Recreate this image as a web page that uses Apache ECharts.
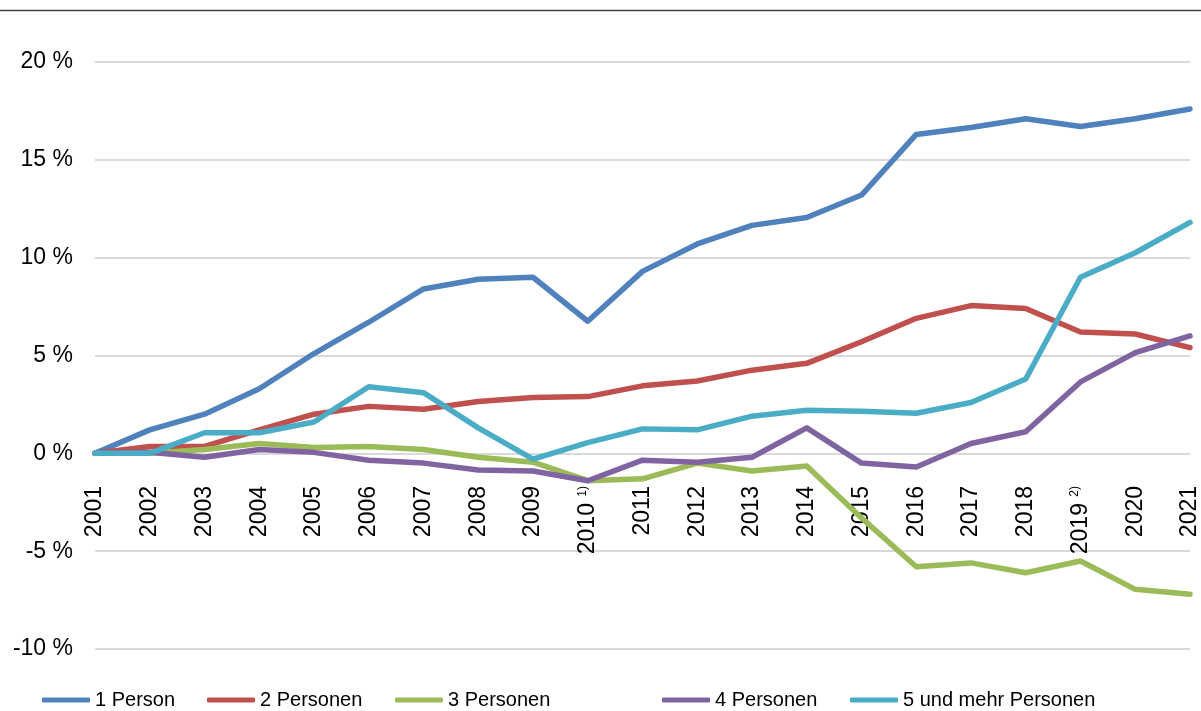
<!DOCTYPE html>
<html>
<head>
<meta charset="utf-8">
<script src="https://cdn.jsdelivr.net/npm/echarts@6/dist/echarts.min.js"></script>
<style>
  html, body { margin: 0; padding: 0; background: #fff; }
  #chart { width: 1201px; height: 711px; }
</style>
</head>
<body>
<div id="chart"></div>
<script>
// Jahre (x-Achse)
const years = ['2001', '2002', '2003', '2004', '2005', '2006', '2007', '2008', '2009', '2010 {s|1)}',
  '2011', '2012', '2013', '2014', '2015', '2016', '2017', '2018', '2019 {s|2)}', '2020', '2021'];

// Veränderung gegenüber 2001 in %
const person1 = [0, 1.2, 2.0, 3.3, 5.1, 6.7, 8.4, 8.9, 9.0, 6.75, 9.3, 10.7, 11.65, 12.05, 13.2, 16.3, 16.65, 17.1, 16.7, 17.1, 17.6];
const person2 = [0, 0.35, 0.35, 1.2, 2.0, 2.4, 2.25, 2.65, 2.85, 2.9, 3.45, 3.7, 4.25, 4.6, 5.7, 6.9, 7.55, 7.4, 6.2, 6.1, 5.4];
const person3 = [0, 0, 0.2, 0.5, 0.3, 0.35, 0.2, -0.2, -0.45, -1.4, -1.3, -0.5, -0.9, -0.65, -3.3, -5.8, -5.6, -6.1, -5.5, -6.95, -7.2];
const person4 = [0, 0.05, -0.2, 0.2, 0.05, -0.35, -0.5, -0.85, -0.9, -1.4, -0.35, -0.45, -0.2, 1.3, -0.5, -0.7, 0.5, 1.1, 3.65, 5.15, 6.0];
const person5 = [0, 0, 1.05, 1.05, 1.6, 3.4, 3.1, 1.3, -0.3, 0.55, 1.25, 1.2, 1.9, 2.2, 2.15, 2.05, 2.6, 3.8, 9.0, 10.25, 11.8];

const seriesNames = ['1 Person', '2 Personen', '3 Personen', '4 Personen', '5 und mehr Personen'];
const seriesData = [person1, person2, person3, person4, person5];
const colors = ['#4F81BD', '#C0504D', '#9BBB59', '#8064A2', '#4BACC6'];

// y-Achse
const yMin = -10, yMax = 20, yStep = 5;

const font = 'Liberation Sans, Arial, sans-serif';
const legendLeft = [42, 207, 395, 662, 850];

const chart = echarts.init(document.getElementById('chart'));

const option = {
  animation: false,
  color: colors,
  textStyle: { fontFamily: font },
  grid: { left: 95, right: 11, top: 62, bottom: 62, containLabel: false, outerBoundsMode: 'none' },
  graphic: [{
    type: 'line',
    shape: { x1: 0, y1: 10.5, x2: 1201, y2: 10.5 },
    style: { stroke: '#404040', lineWidth: 1.5 }
  }],
  legend: seriesNames.map((name, i) => ({
    data: [name],
    left: legendLeft[i],
    top: 690,
    icon: 'roundRect',
    itemWidth: 48,
    itemHeight: 5,
    itemGap: 0,
    padding: 0,
    textStyle: { fontSize: 20, color: '#000', fontFamily: font }
  })),
  xAxis: {
    type: 'category',
    data: years,
    boundaryGap: false,
    position: 'bottom',
    offset: -196, // Achse liegt auf der 0-Linie
    axisLine: { show: false, onZero: false },
    axisTick: { show: false },
    axisLabel: {
      rotate: 90,
      margin: 33,
      interval: 0,
      fontSize: 23,
      color: '#000',
      fontFamily: font,
      hideOverlap: false,
      rich: {
        s: { fontSize: 12, color: '#000', fontFamily: font, verticalAlign: 'top' }
      }
    },
    splitLine: { show: false }
  },
  yAxis: {
    type: 'value',
    min: yMin,
    max: yMax,
    interval: yStep,
    axisLine: { show: false },
    axisTick: { show: false },
    axisLabel: {
      margin: 22,
      fontSize: 23,
      color: '#000',
      fontFamily: font,
      formatter: v => v + ' %'
    },
    splitLine: { lineStyle: { color: '#d9d9d9', width: 2 } }
  },
  series: seriesNames.map((name, i) => ({
    name: name,
    type: 'line',
    data: seriesData[i],
    showSymbol: false,
    symbol: 'none',
    lineStyle: { width: 5.5, color: colors[i], cap: 'round', join: 'round' },
    itemStyle: { color: colors[i] }
  }))
};

chart.setOption(option);
</script>
</body>
</html>
